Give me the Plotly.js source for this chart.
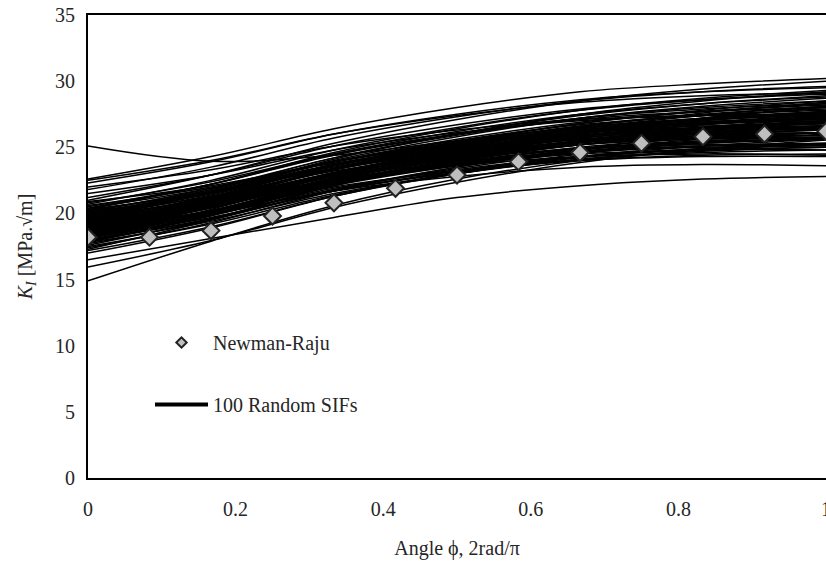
<!DOCTYPE html>
<html>
<head>
<meta charset="utf-8">
<script src="https://cdn.plot.ly/plotly-3.0.1.min.js"></script>
<style>html,body{margin:0;padding:0;background:#fff;}#chart{width:826px;height:561px;}</style>
</head>
<body>
<div id="chart"></div>
<script>
// Angle positions (2rad/pi)
const phiNR = [0, 0.0833, 0.1667, 0.25, 0.3333, 0.4167, 0.5, 0.5833, 0.6667, 0.75, 0.8333, 0.9167, 1];
const kNewmanRaju = [18.2, 18.2, 18.7, 19.8, 20.8, 21.9, 22.9, 23.9, 24.6, 25.3, 25.8, 26.0, 26.2];

const phiSIF = [0, 0.1667, 0.3333, 0.5, 0.6667, 0.8333, 1];
// 100 random SIF curves (values read/estimated from the picture)
const randomSIFs = [
[22.6, 24.3, 26.4, 28.0, 29.2, 29.8, 30.2],
[25.1, 23.95, 24.4, 25.5, 26.5, 27.1, 27.4],
[14.9, 17.9, 20.6, 22.6, 24.0, 24.8, 25.2],
[16.5, 18.1, 19.7, 21.2, 22.1, 22.6, 22.8],
[22.5, 24.0, 26.0, 27.4, 28.4, 28.9, 29.1],
[22.3, 23.9, 26.0, 27.5, 28.6, 29.2, 29.5],
[22.0, 23.3, 25.1, 26.3, 27.1, 27.4, 27.4],
[21.8, 23.5, 25.7, 27.3, 28.5, 29.2, 29.6],
[21.5, 22.9, 24.8, 26.1, 27.0, 27.4, 27.5],
[21.2, 22.9, 25.1, 26.7, 27.9, 28.6, 29.0],
[21.0, 22.9, 25.3, 27.1, 28.5, 29.4, 30.0],
[20.9, 22.1, 23.8, 24.9, 25.6, 25.8, 25.7],
[20.8, 22.4, 24.5, 26.0, 27.1, 27.7, 28.0],
[20.7, 22.5, 24.8, 26.5, 27.8, 28.6, 29.1],
[20.6, 22.0, 23.9, 25.2, 26.1, 26.5, 26.6],
[20.5, 22.2, 24.4, 26.0, 27.2, 27.9, 28.3],
[20.4, 21.9, 23.9, 25.3, 26.3, 26.8, 27.0],
[20.3, 22.2, 24.6, 26.4, 27.8, 28.7, 29.3],
[20.3, 21.6, 23.4, 24.6, 25.4, 25.7, 25.7],
[20.2, 21.8, 23.9, 25.4, 26.5, 27.1, 27.4],
[20.1, 21.9, 24.2, 25.9, 27.2, 28.0, 28.5],
[20.1, 21.5, 23.4, 24.7, 25.6, 26.0, 26.1],
[20.0, 21.7, 23.9, 25.5, 26.7, 27.4, 27.8],
[20.0, 21.5, 23.5, 24.9, 25.9, 26.4, 26.6],
[19.9, 21.8, 24.2, 26.0, 27.4, 28.3, 28.9],
[19.9, 21.5, 23.6, 25.1, 26.2, 26.8, 27.1],
[19.8, 21.1, 22.9, 24.1, 24.9, 25.2, 25.2],
[19.8, 21.6, 23.9, 25.6, 26.9, 27.7, 28.2],
[19.7, 21.4, 23.6, 25.2, 26.4, 27.1, 27.5],
[19.7, 21.1, 23.0, 24.3, 25.2, 25.6, 25.7],
[19.6, 21.2, 23.3, 24.8, 25.9, 26.5, 26.8],
[19.6, 21.6, 24.1, 26.0, 27.5, 28.5, 29.2],
[19.5, 21.0, 23.0, 24.4, 25.4, 25.9, 26.1],
[19.5, 21.3, 23.6, 25.3, 26.6, 27.4, 27.9],
[19.4, 21.1, 23.3, 24.9, 26.1, 26.8, 27.2],
[19.4, 20.7, 22.5, 23.7, 24.5, 24.8, 24.8],
[19.3, 20.9, 23.0, 24.5, 25.6, 26.2, 26.5],
[19.3, 21.2, 23.6, 25.4, 26.8, 27.7, 28.3],
[19.3, 20.8, 22.8, 24.2, 25.2, 25.7, 25.9],
[19.2, 21.0, 23.3, 25.0, 26.3, 27.1, 27.6],
[19.2, 20.6, 22.5, 23.8, 24.7, 25.1, 25.2],
[19.1, 20.8, 23.0, 24.6, 25.8, 26.5, 26.9],
[19.1, 20.7, 22.8, 24.3, 25.4, 26.0, 26.3],
[19.1, 21.0, 23.4, 25.2, 26.6, 27.5, 28.1],
[19.0, 20.5, 22.5, 23.9, 24.9, 25.4, 25.6],
[19.0, 20.8, 23.1, 24.8, 26.1, 26.9, 27.4],
[18.9, 20.5, 22.6, 24.1, 25.2, 25.8, 26.1],
[18.9, 20.9, 23.4, 25.3, 26.8, 27.8, 28.5],
[18.9, 20.2, 22.0, 23.2, 24.0, 24.3, 24.3],
[18.8, 20.5, 22.7, 24.3, 25.5, 26.2, 26.6],
[18.8, 20.6, 22.9, 24.6, 25.9, 26.7, 27.2],
[18.7, 20.2, 22.2, 23.6, 24.6, 25.1, 25.3],
[18.7, 20.6, 23.0, 24.8, 26.2, 27.1, 27.7],
[18.6, 20.2, 22.3, 23.8, 24.9, 25.5, 25.8],
[18.6, 20.4, 22.7, 24.4, 25.7, 26.5, 27.0],
[18.5, 20.2, 22.4, 24.0, 25.2, 25.9, 26.3],
[18.5, 20.5, 23.0, 24.9, 26.4, 27.4, 28.1],
[18.5, 19.9, 21.8, 23.1, 24.0, 24.4, 24.5],
[18.4, 20.2, 22.5, 24.2, 25.5, 26.3, 26.8],
[18.4, 20.0, 22.1, 23.6, 24.7, 25.3, 25.6],
[18.3, 20.2, 22.6, 24.4, 25.8, 26.7, 27.3],
[18.3, 20.0, 22.2, 23.8, 25.0, 25.7, 26.1],
[18.2, 20.3, 22.9, 24.9, 26.5, 27.6, 28.4],
[18.2, 19.7, 21.7, 23.1, 24.1, 24.6, 24.8],
[18.1, 19.9, 22.2, 23.9, 25.2, 26.0, 26.5],
[18.1, 20.1, 22.6, 24.5, 26.0, 27.0, 27.7],
[18.0, 19.6, 21.7, 23.2, 24.3, 24.9, 25.2],
[17.9, 19.8, 22.2, 24.0, 25.4, 26.3, 26.9],
[17.9, 19.6, 21.8, 23.4, 24.6, 25.3, 25.7],
[17.8, 19.9, 22.5, 24.5, 26.1, 27.2, 28.0],
[17.7, 19.5, 21.8, 23.5, 24.8, 25.6, 26.1],
[17.6, 19.6, 22.1, 24.0, 25.5, 26.5, 27.2],
[17.5, 19.2, 21.4, 23.0, 24.2, 24.9, 25.3],
[17.4, 19.3, 21.7, 23.5, 24.9, 25.8, 26.4],
[17.3, 19.5, 22.2, 24.3, 26.0, 27.2, 28.1],
[17.2, 19.0, 21.3, 23.0, 24.3, 25.1, 25.6],
[17.0, 18.9, 21.3, 23.1, 24.5, 25.4, 26.0],
[15.95, 17.95, 20.45, 22.35, 23.85, 24.85, 25.55],
[19.6, 20.8, 22.5, 23.6, 24.3, 24.5, 24.4],
[18.8, 20.0, 21.7, 22.8, 23.5, 23.7, 23.6],
[20.4, 22.2, 24.5, 26.2, 27.5, 28.3, 28.8],
[19.7, 21.6, 24.0, 25.8, 27.2, 28.1, 28.7],
[19.0, 20.7, 22.9, 24.5, 25.7, 26.4, 26.8],
[19.4, 21.0, 23.1, 24.6, 25.7, 26.3, 26.6],
[18.7, 20.4, 22.6, 24.2, 25.4, 26.1, 26.5],
[19.9, 21.3, 23.2, 24.5, 25.4, 25.8, 25.9],
[18.2, 20.0, 22.3, 24.0, 25.3, 26.1, 26.6],
[19.2, 20.8, 22.9, 24.4, 25.5, 26.1, 26.4],
[18.6, 20.5, 22.9, 24.7, 26.1, 27.0, 27.6],
[20.2, 21.7, 23.7, 25.1, 26.1, 26.6, 26.8],
[17.8, 19.4, 21.5, 23.0, 24.1, 24.7, 25.0],
[19.5, 21.2, 23.4, 25.0, 26.2, 26.9, 27.3],
[18.4, 19.9, 21.9, 23.3, 24.3, 24.8, 25.0],
[19.1, 20.5, 22.4, 23.7, 24.6, 25.0, 25.1],
[18.9, 20.7, 23.0, 24.7, 26.0, 26.8, 27.3],
[20.0, 21.6, 23.7, 25.2, 26.3, 26.9, 27.2],
[18.0, 19.9, 22.3, 24.1, 25.5, 26.4, 27.0],
[19.3, 21.1, 23.4, 25.1, 26.4, 27.2, 27.7],
[18.5, 20.1, 22.2, 23.7, 24.8, 25.4, 25.7],
[19.8, 21.5, 23.7, 25.3, 26.5, 27.2, 27.6]
];

const xTickVals = [0, 0.2, 0.4, 0.6, 0.8, 1];
const xTickText = ['0', '0.2', '0.4', '0.6', '0.8', '1'];
const yTickVals = [0, 5, 10, 15, 20, 25, 30, 35];

const FONT = '"Liberation Serif", "Times New Roman", serif';
const TXT = '#262626';
const FS = 20;

const traces = [];
randomSIFs.forEach(function (vals) {
  traces.push({
    type: 'scatter', mode: 'lines', x: phiSIF, y: vals,
    line: {color: '#000000', width: 1.5, shape: 'spline', smoothing: 1},
    showlegend: false, hoverinfo: 'skip'
  });
});
// Newman-Raju points
traces.push({
  type: 'scatter', mode: 'markers', x: phiNR, y: kNewmanRaju,
  marker: {symbol: 'diamond', size: 13, color: '#bfbfbf', line: {color: '#222222', width: 2}},
  showlegend: false
});
// legend entries
traces.push({
  type: 'scatter', mode: 'markers', x: [null], y: [null], name: 'Newman-Raju',
  marker: {symbol: 'diamond', size: 8, color: '#bfbfbf', line: {color: '#222222', width: 2}},
  legendgroup: 'nr', legendrank: 1
});
traces.push({
  type: 'scatter', mode: 'lines', x: [null], y: [null], name: '100 Random SIFs',
  line: {color: '#000000', width: 4},
  legendgroup: 'sif', legendrank: 2
});

const layout = {
  width: 826, height: 561,
  margin: {l: 88, r: 0, t: 15, b: 83, pad: 0},
  paper_bgcolor: '#ffffff', plot_bgcolor: '#ffffff',
  font: {family: FONT, size: FS, color: TXT},
  showlegend: true,
  legend: {
    xref: 'paper', yref: 'paper',
    font: {family: FONT, size: FS, color: TXT},
    bgcolor: 'rgba(0,0,0,0)', borderwidth: 0,
    itemwidth: 53, tracegroupgap: 33, traceorder: 'grouped',
    xanchor: 'left', yanchor: 'top'
  },
  xaxis: {
    range: [0, 1], tickmode: 'array', tickvals: xTickVals, ticktext: xTickText,
    showgrid: false, zeroline: false, showline: true, linecolor: '#000000', linewidth: 2,
    mirror: true, ticks: '', ticklabelstandoff: 12, automargin: false, ticklabeloverflow: 'allow',
    tickfont: {family: FONT, size: FS, color: TXT},
    title: {text: 'Angle ϕ, 2rad/π', font: {family: FONT, size: FS, color: TXT}, standoff: 22}
  },
  yaxis: {
    range: [0, 35], tickmode: 'array', tickvals: yTickVals,
    showgrid: false, zeroline: false, showline: true, linecolor: '#000000', linewidth: 2,
    mirror: false, ticks: '', ticklabelstandoff: 7, automargin: false,
    tickfont: {family: FONT, size: FS, color: TXT},
    title: {text: '<i>K<sub>I</sub></i> [MPa.√m]', font: {family: FONT, size: FS, color: TXT}, standoff: 17}
  }
};
layout.legend.x = (150 - 88) / 738;
layout.legend.y = (478 - 323) / 463;

Plotly.newPlot('chart', traces, layout, {displayModeBar: false, staticPlot: true});
</script>
</body>
</html>
